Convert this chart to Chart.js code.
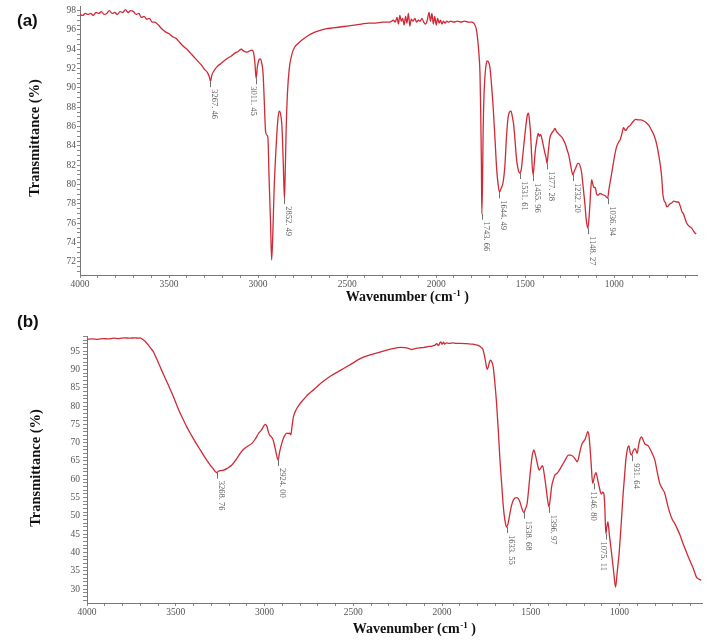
<!DOCTYPE html>
<html><head><meta charset="utf-8">
<script src="https://cdn.jsdelivr.net/npm/chart.js@4.4.1/dist/chart.umd.min.js"></script>
<style>
html,body{margin:0;padding:0;background:#fff;width:709px;height:643px;overflow:hidden}
#wa{position:absolute;left:0;top:0;width:709px;height:305px}
#wb{position:absolute;left:0;top:305px;width:709px;height:338px}
</style></head><body>
<div id="wa"><canvas id="ca" width="709" height="305"></canvas></div>
<div id="wb"><canvas id="cb" width="709" height="338"></canvas></div>
<script>
// ---- data: [wavenumber cm-1, transmittance %] ----
const spectrumA = [
[4000,97.6],[3985,97.5],[3970,97.7],[3955,97.6],[3940,97.7],[3925,97.5],[3910,97.8],[3895,97.7],[3880,97.9],[3865,97.6],
[3850,97.7],[3835,98.0],[3820,97.7],[3805,97.8],[3790,97.6],[3775,97.9],[3760,97.8],[3745,98.1],[3730,97.8],[3715,98.0],
[3700,97.9],[3685,97.6],[3670,97.7],[3655,97.3],[3640,97.4],[3625,97.1],[3610,97.2],[3595,96.8],[3580,96.8],[3560,96.5],
[3540,96.1],[3520,95.8],[3500,95.6],[3480,95.3],[3460,95.1],[3440,94.7],[3420,94.3],[3400,94.0],[3380,93.6],[3360,93.2],
[3340,92.8],[3320,92.4],[3300,91.9],[3285,91.6],[3275,91.2],[3267,90.7],[3260,91.3],[3250,91.7],[3230,92.2],[3210,92.5],
[3190,92.8],[3170,93.1],[3150,93.3],[3130,93.6],[3110,93.8],[3095,94.0],[3080,93.8],[3065,93.7],[3050,93.8],[3035,93.9],
[3025,93.6],[3018,92.6],[3011,91.0],[3004,92.2],[2995,92.9],[2988,93.0],[2980,92.6],[2972,91.5],[2965,88.5],[2958,85.5],
[2950,85.1],[2945,84.9],[2938,80.5],[2930,76.0],[2924,72.2],[2918,74.5],[2910,79.5],[2900,83.5],[2890,86.5],[2882,87.6],
[2875,87.4],[2866,86.0],[2860,83.0],[2856,80.5],[2852,78.6],[2848,81.0],[2842,86.0],[2835,89.5],[2825,92.0],[2810,93.5],
[2795,94.2],[2775,94.6],[2750,95.0],[2720,95.4],[2690,95.7],[2660,95.9],[2620,96.1],[2580,96.2],[2540,96.3],[2500,96.4],
[2460,96.5],[2420,96.6],[2380,96.7],[2340,96.7],[2300,96.8],[2260,96.8],[2240,97.0],[2230,96.8],[2220,97.3],[2212,96.6],
[2204,97.5],[2196,96.9],[2188,97.2],[2180,96.5],[2172,97.4],[2164,96.7],[2156,97.7],[2148,96.4],[2140,97.1],[2130,96.9],
[2120,97.2],[2110,96.8],[2100,97.0],[2090,96.9],[2080,97.2],[2070,96.8],[2060,96.6],[2050,97.0],[2040,97.8],[2032,96.9],
[2024,97.7],[2016,96.6],[2008,97.4],[2000,96.5],[1992,97.2],[1984,96.7],[1976,97.0],[1968,96.6],[1960,96.9],[1950,96.7],
[1940,96.9],[1930,96.8],[1920,96.9],[1900,96.8],[1880,96.9],[1860,96.8],[1840,96.9],[1820,96.8],[1800,96.8],[1785,96.6],
[1775,96.1],[1768,95.2],[1760,93.5],[1754,91.5],[1750,87.5],[1746,82.0],[1743.7,77.0],[1740,80.0],[1736,86.0],[1731,89.5],
[1725,91.5],[1718,92.6],[1712,92.8],[1705,92.6],[1698,92.1],[1690,90.5],[1680,88.0],[1670,84.8],[1660,81.5],[1652,80.0],
[1644.5,79.2],[1636,79.6],[1627,80.0],[1620,80.8],[1614,82.0],[1605,85.0],[1596,87.0],[1588,87.5],[1580,87.6],[1572,87.0],
[1565,86.2],[1557,84.5],[1548,82.5],[1540,81.6],[1531.6,81.2],[1522,81.6],[1515,82.8],[1505,84.6],[1495,86.3],[1488,87.2],
[1482,87.4],[1476,86.6],[1470,85.3],[1464,83.0],[1456,81.0],[1450,82.0],[1444,83.4],[1435,84.6],[1427,85.3],[1420,85.0],
[1414,85.2],[1406,84.7],[1398,84.0],[1390,83.3],[1383,82.8],[1377.3,82.2],[1370,83.5],[1362,84.8],[1352,85.3],[1340,85.6],
[1333,85.8],[1325,85.5],[1315,85.3],[1305,85.1],[1295,84.9],[1285,84.6],[1275,84.2],[1265,83.6],[1255,83.0],[1245,82.0],
[1238,81.3],[1232.2,81.0],[1224,81.4],[1215,81.8],[1205,82.2],[1198,82.2],[1190,81.8],[1183,81.2],[1175,79.8],[1165,78.0],
[1157,76.3],[1148.3,75.5],[1142,76.5],[1137,77.9],[1132,79.5],[1127,80.5],[1120,80.0],[1114,79.7],[1107,79.7],[1099,79.0],
[1090,78.9],[1080,79.1],[1070,79.0],[1058,78.9],[1048,78.8],[1037,78.6],[1030,79.5],[1015,81.1],[1000,82.8],[987,83.9],
[975,84.4],[968,84.6],[958,85.2],[948,85.9],[942,85.7],[935,85.6],[925,85.9],[912,86.1],[895,86.5],[880,86.75],
[865,86.7],[850,86.7],[837,86.6],[820,86.4],[805,86.1],[790,85.6],[775,85.0],[762,84.2],[750,83.0],[740,81.8],
[734,80.8],[727,79.0],[721,78.4],[712,78.1],[705,77.7],[697,77.8],[688,78.0],[678,78.1],[665,78.3],[650,78.2],
[640,78.2],[630,77.8],[620,77.2],[612,77.0],[603,76.5],[593,76.0],[580,75.7],[565,75.5],[555,75.2],[547,75.0],[540,74.9]
];
const spectrumB = [
[4000,98.2],[3970,98.3],[3940,98.2],[3910,98.4],[3880,98.3],[3850,98.5],[3820,98.4],[3790,98.6],[3760,98.5],[3730,98.6],
[3710,98.5],[3700,98.6],[3690,98.3],[3682,98.0],[3668,97.4],[3654,96.6],[3640,95.7],[3626,94.8],[3607,92.8],[3588,90.7],
[3569,88.6],[3550,86.6],[3531,84.5],[3513,82.5],[3494,80.2],[3475,78.0],[3456,76.1],[3438,74.3],[3414,72.2],[3391,70.3],
[3367,68.4],[3344,66.6],[3325,65.2],[3306,63.9],[3288,62.8],[3275,62.0],[3269,61.8],[3260,62.2],[3245,62.4],[3231,62.5],
[3210,63.0],[3184,63.9],[3160,65.4],[3137,67.1],[3118,68.2],[3100,68.9],[3071,69.8],[3052,71.0],[3034,72.5],[3015,73.6],
[3005,74.5],[2996,75.0],[2988,74.6],[2980,73.2],[2972,72.1],[2962,71.6],[2953,70.9],[2945,69.5],[2935,67.3],[2924,65.3],
[2915,67.5],[2903,69.8],[2893,71.3],[2884,72.1],[2875,72.6],[2865,72.5],[2858,72.6],[2852,72.1],[2845,74.5],[2837,77.1],
[2822,79.0],[2805,80.3],[2780,81.8],[2758,83.0],[2720,84.6],[2683,86.2],[2630,88.1],[2570,89.8],[2510,91.5],[2458,93.0],
[2400,94.0],[2345,94.8],[2290,95.5],[2232,96.0],[2210,95.9],[2190,95.7],[2170,95.4],[2157,95.6],[2140,95.8],[2120,95.9],
[2100,96.0],[2082,96.2],[2060,96.3],[2040,96.6],[2030,97.0],[2020,96.5],[2012,97.3],[2007,97.5],[2000,96.8],[1992,97.4],
[1985,96.9],[1975,97.2],[1960,97.1],[1940,97.2],[1920,97.1],[1894,97.1],[1860,97.0],[1830,96.9],[1810,96.7],[1791,96.4],
[1780,96.0],[1769,95.3],[1760,93.5],[1752,91.2],[1746,90.0],[1740,90.6],[1733,92.0],[1727,92.5],[1720,92.0],[1712,90.7],
[1703,86.5],[1693,80.7],[1683,73.0],[1674,65.3],[1664,58.5],[1655,52.5],[1646,48.8],[1637,47.0],[1628,48.0],[1618,50.7],
[1608,53.0],[1599,54.3],[1590,54.9],[1581,55.0],[1572,54.8],[1562,53.9],[1550,52.0],[1540,50.9],[1530,52.0],[1521,53.4],
[1512,57.5],[1502,62.5],[1492,66.5],[1483,68.0],[1475,66.8],[1468,65.3],[1460,63.5],[1453,62.5],[1443,63.2],[1434,63.7],
[1425,61.5],[1415,58.0],[1406,54.5],[1398,52.5],[1390,55.0],[1383,58.0],[1373,60.0],[1364,61.2],[1355,61.5],[1345,62.1],
[1331,63.2],[1317,64.4],[1303,65.6],[1289,66.6],[1275,66.6],[1261,66.2],[1250,65.5],[1238,64.8],[1226,67.0],[1214,69.4],
[1205,70.2],[1195,70.9],[1187,72.0],[1180,73.0],[1173,72.0],[1167,68.9],[1160,64.0],[1152,58.9],[1142,60.8],[1133,61.8],
[1124,60.0],[1115,58.0],[1108,56.5],[1102,56.0],[1095,56.5],[1089,56.2],[1083,52.0],[1078,45.2],[1072,47.0],[1066,48.4],
[1058,45.0],[1045,39.7],[1033,34.5],[1023,30.6],[1013,35.0],[1003,39.7],[991,48.0],[980,56.2],[972,61.0],[965,65.3],
[955,68.5],[948,69.1],[940,67.2],[933,66.6],[925,67.6],[914,68.4],[905,67.5],[901,67.1],[893,69.3],[885,71.0],
[877,71.6],[868,70.8],[858,69.7],[849,69.4],[840,69.2],[830,68.4],[816,67.0],[802,65.3],[788,62.0],[774,58.9],
[760,57.5],[746,56.2],[737,54.5],[727,52.5],[715,50.5],[702,48.9],[690,48.0],[680,47.0],[660,44.8],[643,42.5],
[625,40.3],[605,37.9],[585,35.7],[568,33.4],[555,32.8],[540,32.5]
];
// labelled peaks (wavenumber) and transmittance at the marked minimum
const peaksA = [3267.46, 3011.45, 2852.49, 1743.66, 1644.49, 1531.61, 1455.96, 1377.28, 1232.20, 1148.27, 1036.94];
const peakTA = [90.7, 91.0, 78.6, 77.0, 79.2, 81.2, 81.0, 82.2, 81.0, 75.5, 78.6];
const peaksB = [3268.76, 2924.00, 1633.55, 1538.68, 1396.97, 1146.80, 1075.11, 931.64];
const peakTB = [61.8, 65.3, 47.0, 50.9, 52.5, 58.9, 45.2, 66.6];
// tick labels
const xTickLabels = [4000, 3500, 3000, 2500, 2000, 1500, 1000];
const yTickLabelsA = [72, 74, 76, 78, 80, 82, 84, 86, 88, 90, 92, 94, 96, 98];
const yTickLabelsB = [30, 35, 40, 45, 50, 55, 60, 65, 70, 75, 80, 85, 90, 95];
const panelNames = ['(a)', '(b)'];
const yTitle = 'Transmittance (%)';
const xTitleMain = 'Wavenumber (cm', xTitleSup = '-1', xTitleEnd = ' )';

// ---- styling / layout ----
const LINE = '#cf2a35', GREY = '#5a5a5a';
const TICKFONT = {family: '"Liberation Serif", serif', size: 9.5};
// horizontal label nudges (px) for peak labels, per panel
const labelNudgeA = [4, -3, 4, 4, 4, 4, 4, 4, 4, 4, 4];
const labelNudgeB = [4, 4, 4, 4, 4, -1, -3, 4];

const xMinor = []; for (let v = 4000; v >= 600; v -= 100) xMinor.push(v);

function xAxis(min, h) {
  return {
    type: 'linear', reverse: true, min: min, max: 4000,
    afterBuildTicks: ax => { ax.ticks = xMinor.map(v => ({value: v})); },
    afterFit: s => { s.height = h; },
    ticks: {autoSkip: false, maxRotation: 0, minRotation: 0, color: '#555', font: TICKFONT, padding: 1,
      callback: v => xTickLabels.includes(v) ? String(v) : ''},
    grid: {drawOnChartArea: false, drawTicks: true, tickLength: 3, color: '#888'},
    border: {display: true, color: '#777', width: 1}
  };
}
function yAxis(min, max, labels, minorStep, w, tl, pad) {
  const lo = labels[0] - Math.floor((labels[0] - min) / minorStep) * minorStep;
  const vals = []; for (let v = lo; v <= max + 1e-9; v += minorStep) vals.push(Math.round(v * 100) / 100);
  return {
    type: 'linear', min: min, max: max,
    afterBuildTicks: ax => { ax.ticks = vals.map(v => ({value: v})); },
    afterFit: s => { s.width = w; },
    ticks: {autoSkip: false, color: '#555', font: TICKFONT, padding: pad,
      callback: v => labels.includes(v) ? String(v) : ''},
    grid: {drawOnChartArea: false, drawTicks: true, tickLength: tl, color: '#888'},
    border: {display: true, color: '#777', width: 1}
  };
}

const decor = {
  id: 'decor',
  afterDraw(chart, args, o) {
    const ctx = chart.ctx, xs = chart.scales.x, ys = chart.scales.y;
    ctx.save();
    // peak markers and labels
    o.peaks.forEach((p, i) => {
      const x = Math.round(xs.getPixelForValue(p)) + 0.5;
      const y = ys.getPixelForValue(o.peakT[i]);
      ctx.strokeStyle = '#707070'; ctx.lineWidth = 1;
      ctx.beginPath(); ctx.moveTo(x, y); ctx.lineTo(x, y + 6); ctx.stroke();
      ctx.save();
      ctx.translate(x + o.nudge[i], y + 8); ctx.rotate(Math.PI / 2);
      ctx.font = '8.5px "Liberation Serif", serif'; ctx.fillStyle = GREY;
      ctx.textAlign = 'left'; ctx.textBaseline = 'middle';
      ctx.fillText(p.toFixed(2).replace('.', '. '), 0, 0);
      ctx.restore();
    });
    // panel label
    ctx.font = 'bold 17px "Liberation Sans", Arial, sans-serif'; ctx.fillStyle = '#111';
    ctx.textAlign = 'left'; ctx.textBaseline = 'middle';
    ctx.fillText(o.panel, 17, o.panelY);
    // y title
    ctx.save();
    ctx.translate(o.yTitleX, o.yTitleY); ctx.rotate(-Math.PI / 2);
    ctx.font = 'bold 14.5px "Liberation Serif", serif'; ctx.textAlign = 'center'; ctx.textBaseline = 'middle';
    ctx.fillText(yTitle, 0, 0);
    ctx.restore();
    // x title with superscript
    const fMain = 'bold 14px "Liberation Serif", serif', fSup = 'bold 9px "Liberation Serif", serif';
    ctx.font = fMain; const w1 = ctx.measureText(xTitleMain).width, w3 = ctx.measureText(xTitleEnd).width;
    ctx.font = fSup; const w2 = ctx.measureText(xTitleSup).width;
    let x0 = o.xTitleX - (w1 + w2 + w3) / 2;
    ctx.textBaseline = 'alphabetic'; ctx.textAlign = 'left';
    const base = o.xTitleY + 5;
    ctx.font = fMain; ctx.fillText(xTitleMain, x0, base); x0 += w1;
    ctx.font = fSup; ctx.fillText(xTitleSup, x0 + 0.5, base - 5.5); x0 += w2 + 0.5;
    ctx.font = fMain; ctx.fillText(xTitleEnd, x0, base);
    ctx.restore();
  }
};

function makeChart(id, spectrum, xs, ys, pad, opts) {
  return new Chart(document.getElementById(id), {
    type: 'line',
    data: {datasets: [{
      data: spectrum.map(p => ({x: p[0], y: p[1]})),
      borderColor: LINE, borderWidth: 1.3, pointRadius: 0, fill: false,
      cubicInterpolationMode: 'monotone'
    }]},
    options: {
      responsive: false, animation: false, devicePixelRatio: 1,
      layout: {padding: pad},
      scales: {x: xs, y: ys},
      plugins: {legend: {display: false}, tooltip: {enabled: false}, decor: opts}
    },
    plugins: [decor]
  });
}

makeChart('ca', spectrumA, xAxis(535.5, 30), yAxis(70.65, 98.4, yTickLabelsA, 0.5, 80, 3, 1),
  {top: 6, right: 12, left: 0, bottom: 0},
  {peaks: peaksA, peakT: peakTA, nudge: labelNudgeA, panel: panelNames[0], panelY: 21, yTitleX: 35, yTitleY: 138, xTitleX: 407, xTitleY: 296});

makeChart('cb', spectrumB, xAxis(536, 40), yAxis(26.26, 99.1, yTickLabelsB, 1, 87, 4, 3),
  {top: 31, right: 7, left: 0, bottom: 0},
  {peaks: peaksB, peakT: peakTB, nudge: labelNudgeB, panel: panelNames[1], panelY: 17, yTitleX: 36, yTitleY: 163, xTitleX: 414, xTitleY: 323});
</script>
</body></html>
